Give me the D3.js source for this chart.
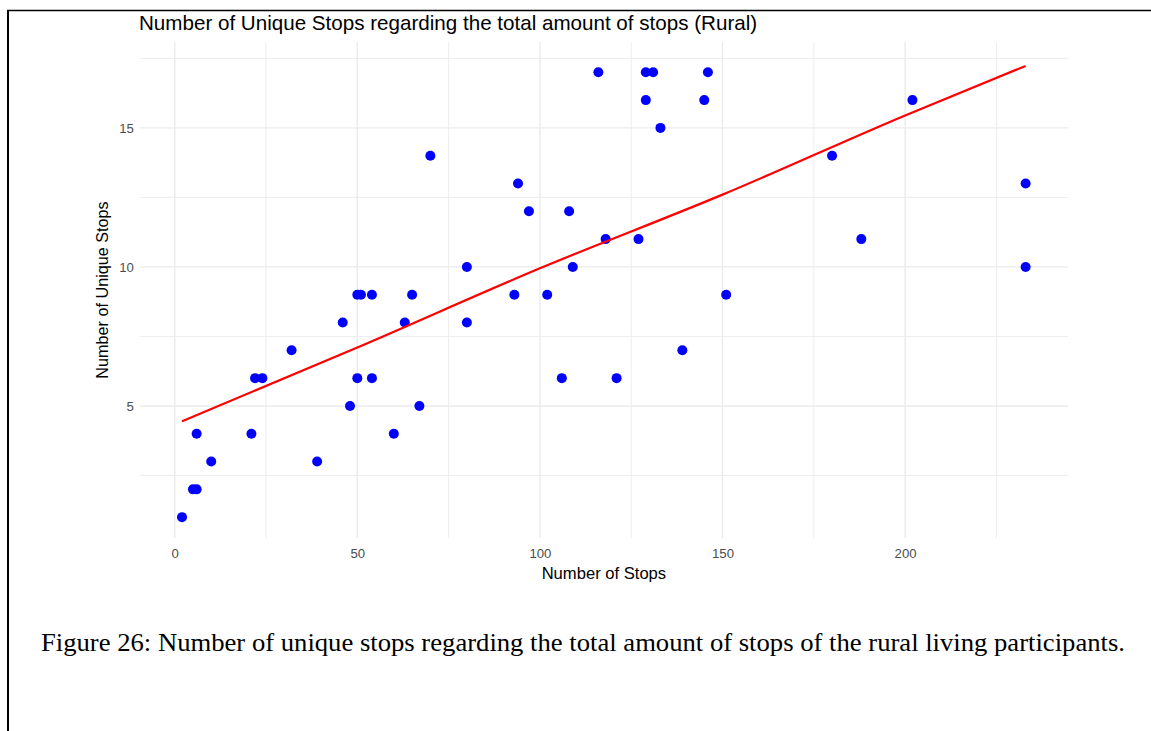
<!DOCTYPE html>
<html>
<head>
<meta charset="utf-8">
<script src="https://cdn.jsdelivr.net/npm/d3@7"></script>
<style>
  html, body { margin: 0; padding: 0; background: #fff; }
  svg { display: block; }
</style>
</head>
<body>
<svg id="chart" width="1151" height="731"></svg>
<script>
// ---- data ----
const stopsX = [2, 5, 6, 6, 10, 21, 22, 24, 32, 39, 46, 48, 50, 51, 54, 50, 54, 60, 63, 65, 67, 70, 80, 80,
  93, 94, 97, 102, 106, 108, 109, 116, 118, 121, 127, 129, 131, 129, 133, 139, 145, 146, 151,
  180, 188, 202, 233, 233];
const uniqueY = [1, 2, 2, 4, 3, 4, 6, 6, 7, 3, 8, 5, 9, 9, 9, 6, 6, 4, 8, 9, 5, 14, 10, 8,
  9, 13, 12, 9, 6, 12, 10, 17, 11, 6, 11, 17, 17, 16, 15, 7, 16, 17, 9,
  14, 11, 16, 13, 10];
const fitX = [2, 50, 100, 150, 200, 233];
const fitY = [4.45, 7.1, 9.95, 12.6, 15.45, 17.23];
const xMajorTicks = [0, 50, 100, 150, 200];
const xMinorTicks = [25, 75, 125, 175, 225];
const yMajorTicks = [5, 10, 15];
const yMinorTicks = [2.5, 7.5, 12.5, 17.5];
const titleText = "Number of Unique Stops regarding the total amount of stops (Rural)";
const xTitle = "Number of Stops";
const yTitle = "Number of Unique Stops";
const captionText = "Figure 26: Number of unique stops regarding the total amount of stops of the rural living participants.";

// ---- layout ----
const svg = d3.select("#chart");
const panel = { left: 139.8, right: 1068, top: 42, bottom: 538 };
const x = d3.scaleLinear().domain([-9.56, 244.6]).range([panel.left, panel.right]);
const y = d3.scaleLinear().domain([0.25, 18.09]).range([panel.bottom, panel.top]);
const sans = "'Liberation Sans', Arial, sans-serif";

svg.append("rect").attr("width", 1151).attr("height", 731).attr("fill", "#fff");

// page border (document frame)
svg.append("line").attr("x1", 7).attr("x2", 1151).attr("y1", 10.5).attr("y2", 10.5)
  .attr("stroke", "#000").attr("stroke-width", 1.6);
svg.append("line").attr("x1", 8).attr("x2", 8).attr("y1", 10).attr("y2", 731)
  .attr("stroke", "#000").attr("stroke-width", 2);

// grid
const grid = svg.append("g");
grid.selectAll(".xminor").data(xMinorTicks).join("line")
  .attr("x1", d => x(d)).attr("x2", d => x(d)).attr("y1", panel.top).attr("y2", panel.bottom)
  .attr("stroke", "#ebebeb").attr("stroke-width", 0.9);
grid.selectAll(".yminor").data(yMinorTicks).join("line")
  .attr("y1", d => y(d)).attr("y2", d => y(d)).attr("x1", panel.left).attr("x2", panel.right)
  .attr("stroke", "#ebebeb").attr("stroke-width", 0.9);
grid.selectAll(".xmajor").data(xMajorTicks).join("line")
  .attr("x1", d => x(d)).attr("x2", d => x(d)).attr("y1", panel.top).attr("y2", panel.bottom)
  .attr("stroke", "#ebebeb").attr("stroke-width", 1.4);
grid.selectAll(".ymajor").data(yMajorTicks).join("line")
  .attr("y1", d => y(d)).attr("y2", d => y(d)).attr("x1", panel.left).attr("x2", panel.right)
  .attr("stroke", "#ebebeb").attr("stroke-width", 1.4);

// axes (labels only, no lines)
const xAxis = svg.append("g").attr("transform", `translate(0,${panel.bottom})`)
  .call(d3.axisBottom(x).tickValues(xMajorTicks).tickSize(0).tickPadding(11));
const yAxis = svg.append("g").attr("transform", `translate(${panel.left},0)`)
  .call(d3.axisLeft(y).tickValues(yMajorTicks).tickSize(0).tickPadding(6));
[xAxis, yAxis].forEach(a => {
  a.select(".domain").remove();
  a.selectAll("text").attr("font-family", sans).attr("font-size", 13.2).attr("fill", "#4d4d4d");
});

// points
svg.append("g").selectAll("circle").data(stopsX.map((d, i) => [d, uniqueY[i]])).join("circle")
  .attr("cx", d => x(d[0])).attr("cy", d => y(d[1])).attr("r", 5).attr("fill", "#0000ff");

// fitted line
const line = d3.line().x(d => x(d[0])).y(d => y(d[1])).curve(d3.curveMonotoneX);
svg.append("path").datum(fitX.map((d, i) => [d, fitY[i]])).attr("d", line)
  .attr("fill", "none").attr("stroke", "#ff0000").attr("stroke-width", 2.2);

// titles
svg.append("text").attr("x", 139).attr("y", 30).text(titleText)
  .attr("font-family", sans).attr("font-size", 20.6).attr("fill", "#000");
svg.append("text").attr("x", (panel.left + panel.right) / 2).attr("y", 579).attr("text-anchor", "middle")
  .text(xTitle).attr("font-family", sans).attr("font-size", 16.6).attr("fill", "#000");
svg.append("text").attr("transform", `translate(108,${(panel.top + panel.bottom) / 2}) rotate(-90)`)
  .attr("text-anchor", "middle").text(yTitle)
  .attr("font-family", sans).attr("font-size", 16.2).attr("fill", "#000");

// caption
svg.append("text").attr("x", 41).attr("y", 651).text(captionText)
  .attr("textLength", 1084).attr("lengthAdjust", "spacingAndGlyphs")
  .attr("font-family", "'Liberation Serif', 'Times New Roman', serif").attr("font-size", 24.5).attr("fill", "#000");
</script>
</body>
</html>
